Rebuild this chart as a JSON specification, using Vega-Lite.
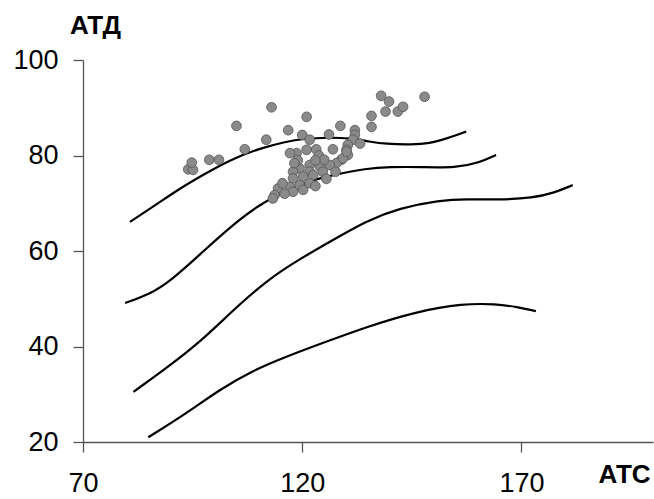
{
  "$schema": "https://vega.github.io/schema/vega-lite/v6.json",
  "width": 570,
  "height": 382,
  "autosize": {"type": "none"},
  "padding": {"left": 83, "top": 60, "right": 1, "bottom": 57},
  "background": "white",
  "config": {"view": {"stroke": null}, "font": "Liberation Sans"},
  "datasets": {
    "curves": [
      {"c": "1", "x": 80.7, "y": 66.1}, {"c": "1", "x": 86.0, "y": 69.3}, {"c": "1", "x": 92.1, "y": 73.1}, {"c": "1", "x": 96.7, "y": 75.6}, {"c": "1", "x": 103.5, "y": 79.1}, {"c": "1", "x": 110.3, "y": 81.5}, {"c": "1", "x": 116.4, "y": 82.9}, {"c": "1", "x": 120.0, "y": 83.5}, {"c": "1", "x": 126.3, "y": 83.8}, {"c": "1", "x": 131.0, "y": 83.6}, {"c": "1", "x": 135.4, "y": 82.9}, {"c": "1", "x": 139.0, "y": 82.4}, {"c": "1", "x": 145.0, "y": 82.3}, {"c": "1", "x": 149.0, "y": 82.5}, {"c": "1", "x": 152.8, "y": 83.5}, {"c": "1", "x": 157.4, "y": 85.0},
      {"c": "2", "x": 79.6, "y": 49.1}, {"c": "2", "x": 85.3, "y": 51.0}, {"c": "2", "x": 89.8, "y": 53.6}, {"c": "2", "x": 96.7, "y": 59.3}, {"c": "2", "x": 103.5, "y": 65.0}, {"c": "2", "x": 110.3, "y": 69.8}, {"c": "2", "x": 116.4, "y": 72.6}, {"c": "2", "x": 122.0, "y": 74.8}, {"c": "2", "x": 127.0, "y": 75.9}, {"c": "2", "x": 134.6, "y": 77.3}, {"c": "2", "x": 140.0, "y": 77.6}, {"c": "2", "x": 146.8, "y": 77.6}, {"c": "2", "x": 155.1, "y": 77.4}, {"c": "2", "x": 160.4, "y": 78.5}, {"c": "2", "x": 164.2, "y": 80.1},
      {"c": "3", "x": 81.5, "y": 30.5}, {"c": "3", "x": 89.8, "y": 36.0}, {"c": "3", "x": 97.4, "y": 41.5}, {"c": "3", "x": 105.0, "y": 48.3}, {"c": "3", "x": 112.6, "y": 54.3}, {"c": "3", "x": 119.4, "y": 58.3}, {"c": "3", "x": 127.0, "y": 62.3}, {"c": "3", "x": 134.6, "y": 66.3}, {"c": "3", "x": 142.2, "y": 69.0}, {"c": "3", "x": 151.3, "y": 70.6}, {"c": "3", "x": 157.4, "y": 70.9}, {"c": "3", "x": 165.0, "y": 70.7}, {"c": "3", "x": 172.6, "y": 71.1}, {"c": "3", "x": 177.5, "y": 72.2}, {"c": "3", "x": 181.7, "y": 73.8},
      {"c": "4", "x": 84.9, "y": 21.0}, {"c": "4", "x": 93.6, "y": 26.0}, {"c": "4", "x": 101.2, "y": 31.0}, {"c": "4", "x": 108.8, "y": 35.0}, {"c": "4", "x": 116.4, "y": 37.9}, {"c": "4", "x": 124.0, "y": 40.5}, {"c": "4", "x": 134.6, "y": 44.1}, {"c": "4", "x": 146.0, "y": 47.3}, {"c": "4", "x": 156.6, "y": 49.0}, {"c": "4", "x": 164.2, "y": 48.9}, {"c": "4", "x": 169.0, "y": 48.3}, {"c": "4", "x": 173.3, "y": 47.4}
    ],
    "points": [
      {"x": 94.0, "y": 77.1}, {"x": 95.1, "y": 77.0}, {"x": 94.8, "y": 78.5}, {"x": 98.8, "y": 79.1}, {"x": 101.0, "y": 79.1},
      {"x": 105.0, "y": 86.2}, {"x": 106.9, "y": 81.3}, {"x": 111.8, "y": 83.3}, {"x": 113.0, "y": 90.1}, {"x": 116.8, "y": 85.3},
      {"x": 121.0, "y": 88.1}, {"x": 120.0, "y": 84.3}, {"x": 121.7, "y": 83.3}, {"x": 126.1, "y": 84.4}, {"x": 128.7, "y": 86.2},
      {"x": 132.0, "y": 85.3}, {"x": 132.0, "y": 84.3}, {"x": 131.6, "y": 83.3}, {"x": 130.4, "y": 82.2}, {"x": 130.1, "y": 81.2},
      {"x": 130.4, "y": 80.1}, {"x": 127.0, "y": 81.3}, {"x": 123.2, "y": 81.3}, {"x": 121.0, "y": 81.2}, {"x": 118.7, "y": 80.5},
      {"x": 117.2, "y": 80.5}, {"x": 128.9, "y": 79.1}, {"x": 127.8, "y": 78.4}, {"x": 126.3, "y": 78.0}, {"x": 124.0, "y": 77.7},
      {"x": 121.7, "y": 78.0}, {"x": 121.7, "y": 76.6}, {"x": 119.4, "y": 77.3}, {"x": 117.9, "y": 76.6}, {"x": 124.7, "y": 76.6},
      {"x": 122.5, "y": 75.9}, {"x": 120.2, "y": 75.6}, {"x": 117.9, "y": 75.2}, {"x": 121.7, "y": 74.2}, {"x": 119.4, "y": 73.8},
      {"x": 117.2, "y": 73.4}, {"x": 120.2, "y": 72.8}, {"x": 117.9, "y": 72.4}, {"x": 114.5, "y": 73.1}, {"x": 113.7, "y": 71.7},
      {"x": 135.8, "y": 88.3}, {"x": 135.8, "y": 86.0}, {"x": 138.0, "y": 92.5}, {"x": 139.8, "y": 91.3}, {"x": 139.0, "y": 89.2},
      {"x": 141.8, "y": 89.2}, {"x": 143.0, "y": 90.2}, {"x": 147.9, "y": 92.3}, {"x": 123.8, "y": 80.0}, {"x": 116.0, "y": 72.0},
      {"x": 113.3, "y": 71.0}, {"x": 125.0, "y": 79.1}, {"x": 133.2, "y": 82.5}, {"x": 129.3, "y": 79.4}, {"x": 130.1, "y": 80.8},
      {"x": 123.0, "y": 73.6}, {"x": 125.5, "y": 75.1}, {"x": 127.6, "y": 76.6}, {"x": 119.0, "y": 79.0}, {"x": 123.0, "y": 79.0},
      {"x": 118.2, "y": 78.4}, {"x": 115.5, "y": 74.2}
    ]
  },
  "layer": [
    {
      "data": {"name": "curves"},
      "mark": {"type": "line", "color": "black", "strokeWidth": 2.2, "interpolate": "basis"},
      "encoding": {
        "x": {
          "field": "x", "type": "quantitative",
          "scale": {"domain": [70, 200], "nice": false, "zero": false},
          "axis": {
            "values": [70, 120, 170], "grid": false, "labelFlush": false, "labelOverlap": false,
            "domainColor": "#555", "domainWidth": 1.3, "tickColor": "#555", "tickWidth": 1.3, "tickSize": 10,
            "labelFontSize": 27, "labelColor": "black", "labelPadding": 18, "labelFont": "Liberation Sans",
            "title": "АТС", "titleFontSize": 26, "titleFontWeight": "bold", "titleColor": "black", "titleFont": "Liberation Sans",
            "titleAngle": 0, "titleAlign": "left", "titleBaseline": "alphabetic", "titleX": 515, "titleY": 40
          }
        },
        "y": {
          "field": "y", "type": "quantitative",
          "scale": {"domain": [20, 100], "nice": false, "zero": false},
          "axis": {
            "values": [20, 40, 60, 80, 100], "grid": false, "labelFlush": false, "labelOverlap": false,
            "domainColor": "#555", "domainWidth": 1.3, "tickColor": "#555", "tickWidth": 1.3, "tickSize": 10,
            "labelFontSize": 27, "labelColor": "black", "labelPadding": 15, "labelFont": "Liberation Sans",
            "title": "АТД", "titleFontSize": 26, "titleFontWeight": "bold", "titleColor": "black", "titleFont": "Liberation Sans",
            "titleAngle": 0, "titleAlign": "center", "titleBaseline": "alphabetic", "titleX": 12, "titleY": -27
          }
        },
        "detail": {"field": "c", "type": "nominal"}
      }
    },
    {
      "data": {"name": "points"},
      "mark": {"type": "circle", "size": 95, "fill": "#8a8a8a", "fillOpacity": 1, "stroke": "#555555", "strokeWidth": 0.8},
      "encoding": {
        "x": {"field": "x", "type": "quantitative"},
        "y": {"field": "y", "type": "quantitative"}
      }
    }
  ]
}
